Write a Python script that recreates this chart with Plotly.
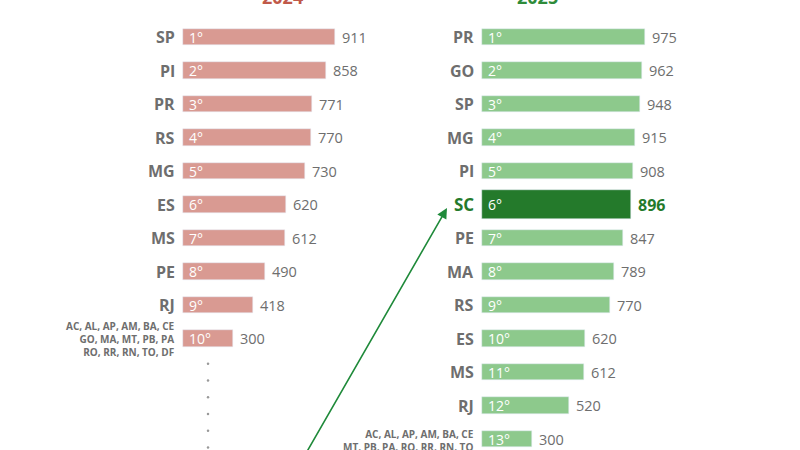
import plotly.graph_objects as go

states_24 = ["SP", "PI", "PR", "RS", "MG", "ES", "MS", "PE", "RJ", "AC, AL, AP, AM, BA, CE<br>GO, MA, MT, PB, PA<br>RO, RR, RN, TO, DF"]
values_24 = [911, 858, 771, 770, 730, 620, 612, 490, 418, 300]
states_25 = ["PR", "GO", "SP", "MG", "PI", "SC", "PE", "MA", "RS", "ES", "MS", "RJ", "AC, AL, AP, AM, BA, CE<br>MT, PB, PA, RO, RR, RN, TO<br>DF"]
values_25 = [975, 962, 948, 915, 908, 896, 847, 789, 770, 620, 612, 520, 300]
highlight = "SC"

S = 0.1668  # px per unit
ROW = 33.5
OFF = 0
y0 = 1 - (37 - OFF) / ROW
y1 = 1 + (450 - 37 + OFF) / ROW
FONT = "Open Sans"
GRAY = "#6e6e6e"

ranks24 = list(range(1, len(values_24) + 1))
ranks25 = list(range(1, len(values_25) + 1))
col25 = ["#247a2b" if s == highlight else "#8dc98c" for s in states_25]
w25 = [0.85 if s == highlight else 0.5 for s in states_25]

fig = go.Figure()
fig.add_bar(x=values_24, y=ranks24, orientation="h", marker_color="#d99a92", width=0.5,
            xaxis="x", yaxis="y", hoverinfo="skip")
fig.add_bar(x=values_25, y=ranks25, orientation="h", marker_color=col25, width=w25,
            xaxis="x2", yaxis="y2", hoverinfo="skip")
dots_y = [10.75, 11.25, 11.75, 12.25, 12.75, 13.25]
fig.add_scatter(x=[150] * len(dots_y), y=dots_y, mode="markers", marker=dict(size=2.5, color="#999"),
                xaxis="x", yaxis="y", hoverinfo="skip")

ann = []
def side(states, values, ranks, xr, yr):
    for s, v, r in zip(states, values, ranks):
        hl = s == highlight
        multi = "<br>" in s
        ann.append(dict(x=-6 / S, y=r, xref=xr, yref=yr, text=s, showarrow=False, xanchor="right",
                        align="right", yshift=(-8 if yr == "y2" and multi else 0),
                        font=dict(family=FONT, size=10 if multi else 17 if hl else 16,
                                  color="#247a2b" if hl else GRAY, weight="bold")))
        ann.append(dict(x=4 / S, y=r, xref=xr, yref=yr, text=f"{r}°", showarrow=False, xanchor="left",
                        font=dict(family=FONT, size=14, color="white")))
        ann.append(dict(x=v + 5 / S, y=r, xref=xr, yref=yr, text=str(v), showarrow=False, xanchor="left",
                        font=dict(family=FONT, size=16 if hl else 14.5, color="#247a2b" if hl else GRAY,
                                  weight="bold" if hl else "normal")))
side(states_24, values_24, ranks24, "x", "y")
side(states_25, values_25, ranks25, "x2", "y2")

ann.append(dict(x=260 / 800, y=1, xref="paper", yref="paper", text="2024", showarrow=False,
                yanchor="middle", yshift=3, font=dict(family=FONT, size=18, color="#c0594a", weight="bold")))
ann.append(dict(x=560 / 800, y=1, xref="paper", yref="paper", text="2025", showarrow=False,
                yanchor="middle", yshift=3, font=dict(family=FONT, size=18, color="#2e8b3a", weight="bold")))
ann.append(dict(x=(447 - 482) / S, y=1 + (208 - 37) / ROW, xref="x2", yref="y2",
                ax=(305 - 482) / S, ay=1 + (455 - 37) / ROW, axref="x2", ayref="y2",
                text="", showarrow=True, arrowhead=2, arrowsize=1.3, arrowwidth=1.6, arrowcolor="#1f8a3a"))

fig.update_layout(
    width=800, height=450, margin=dict(l=0, r=0, t=0, b=0), plot_bgcolor="white", paper_bgcolor="white",
    showlegend=False, annotations=ann, bargap=0,
    xaxis=dict(domain=[0, 0.5], range=[-(183 - OFF) / S, (400 - 183 + OFF) / S], visible=False),
    xaxis2=dict(domain=[0.5, 1], range=[-(482 - OFF - 400) / S, (800 - 482 + OFF) / S], visible=False),
    yaxis=dict(range=[y1, y0], visible=False),
    yaxis2=dict(range=[y1, y0], visible=False, anchor="x2"),
)
fig.write_html("out.html", config={"displayModeBar": False},
               post_script="document.body.style.margin='0';")
